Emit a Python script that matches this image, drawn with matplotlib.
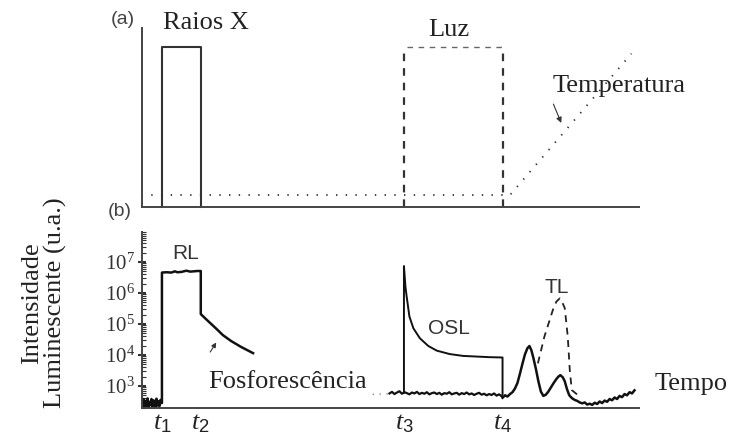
import numpy as np
import matplotlib.pyplot as plt
from matplotlib.ticker import FixedLocator, FixedFormatter, LogLocator, NullFormatter

plt.rcParams['font.family'] = ['Liberation Serif', 'DejaVu Serif']
plt.rcParams['mathtext.fontset'] = 'custom'
plt.rcParams['mathtext.rm'] = 'Liberation Sans'
plt.rcParams['mathtext.it'] = 'Liberation Serif:italic'
plt.rcParams['lines.scale_dashes'] = False

# instants marking the start/end of each stimulus
t_marks = [4.1, 11.9, 52.7, 72.5]
t_names = ['$t_1$', '$t_2$', '$t_3$', '$t_4$']

# (a) stimulus sequence
xray_t = [4.1, 4.1, 11.9, 11.9]
xray_level = [0, 1, 1, 0]
light_level = 1.0
temp_t = [0, 74.0, 98.4]
temp_level = [0.075, 0.075, 0.96]

# (b) luminescence signal, log10 of intensity
rl_t = [0.2, 0.4, 0.6, 0.8, 1.0, 1.2, 1.4, 1.6, 1.8, 2.0, 2.2, 2.4, 2.6, 2.8, 3.0,
        3.2, 3.4, 3.6, 3.8, 4.0, 4.1, 4.1, 5.0, 6.0, 6.7, 7.2, 8.0, 9.0, 9.8, 10.5,
        11.2, 11.9, 11.9, 13.0, 14.0, 15.0, 16.35, 18.0, 20.0, 22.4]
rl_log = [2.42, 2.58, 2.33, 2.52, 2.36, 2.60, 2.31, 2.49, 2.38, 2.58, 2.34, 2.54,
          2.44, 2.32, 2.59, 2.37, 2.51, 2.35, 2.55, 2.45, 2.45, 6.66, 6.67, 6.66,
          6.70, 6.67, 6.68, 6.72, 6.69, 6.70, 6.71, 6.71, 5.32, 5.15, 5.00, 4.85,
          4.64, 4.45, 4.26, 4.06]

osl_t = [52.7, 52.7, 53.0, 53.25, 53.8, 54.6, 55.9, 57.6, 59.3, 61.9, 64.6, 67.3,
         69.9, 72.5, 72.5]
osl_log = [2.78, 6.87, 6.20, 5.88, 5.24, 4.86, 4.54, 4.29, 4.14, 4.03, 3.97, 3.95,
           3.93, 3.92, 2.72]

base_t = [49.8, 50.3, 50.8, 51.3, 51.8, 52.3, 52.8, 53.3, 53.8, 54.3, 54.8, 55.3,
          55.8, 56.3, 56.8, 57.3, 57.8, 58.3, 58.8, 59.3, 59.8, 60.3, 60.8, 61.3,
          61.8, 62.3, 62.8, 63.3, 63.8, 64.3, 64.8, 65.3, 65.8, 66.3, 66.8, 67.3,
          67.8, 68.3, 68.8, 69.3, 69.8, 70.3, 70.8, 71.3, 71.8, 72.5]
base_log = [2.76, 2.81, 2.74, 2.79, 2.83, 2.75, 2.80, 2.77, 2.73, 2.79, 2.76, 2.81,
            2.74, 2.78, 2.75, 2.80, 2.73, 2.77, 2.79, 2.74, 2.78, 2.72, 2.77, 2.75,
            2.80, 2.73, 2.76, 2.78, 2.72, 2.77, 2.74, 2.79, 2.73, 2.76, 2.71, 2.75,
            2.78, 2.72, 2.75, 2.70, 2.74, 2.71, 2.76, 2.69, 2.73, 2.65]
faint_t = [46.4, 49.8]
faint_log = [2.73, 2.75]

tl_t = [72.5, 73.0, 73.5, 74.0, 74.5, 75.0, 75.5, 76.0, 76.5, 77.0, 77.5, 77.9,
        78.3, 78.7, 79.2, 79.7, 80.2, 80.7, 81.2, 81.7, 82.2, 82.7, 83.2, 83.7,
        84.1, 84.6, 85.0, 85.4, 85.8, 86.0, 86.5, 87.0, 87.5, 88.0, 88.5, 89.0,
        89.5, 90.0, 90.5, 91.0, 91.5, 92.0, 92.5, 93.0, 93.5, 94.0, 94.5, 95.0,
        95.5, 96.0, 96.5, 97.0, 97.5, 98.0, 98.5, 99.0]
tl_log = [2.62, 2.70, 2.66, 2.74, 2.80, 2.92, 3.10, 3.40, 3.72, 4.02, 4.22, 4.29,
          4.15, 3.90, 3.55, 3.15, 2.82, 2.68, 2.72, 2.82, 2.95, 3.08, 3.20, 3.30,
          3.35, 3.28, 3.15, 2.92, 2.74, 2.68, 2.60, 2.55, 2.52, 2.47, 2.44, 2.47,
          2.40, 2.43, 2.39, 2.46, 2.42, 2.50, 2.45, 2.53, 2.49, 2.58, 2.54, 2.63,
          2.58, 2.68, 2.64, 2.74, 2.70, 2.80, 2.76, 2.86]

tl_dash_t = [79.6, 80.9, 82.6, 83.3, 84.0, 84.6, 85.0, 85.6, 86.0, 86.4, 87.6]
tl_dash_log = [3.73, 4.59, 5.45, 5.72, 5.83, 5.66, 5.51, 4.59, 3.52, 2.87, 2.71]

ytick_vals = [1e3, 1e4, 1e5, 1e6, 1e7]
ytick_names = [r'$\mathregular{10^3}$', r'$\mathregular{10^4}$', r'$\mathregular{10^5}$',
               r'$\mathregular{10^6}$', r'$\mathregular{10^7}$']

W, H = 731, 443
fig = plt.figure(figsize=(W / 100, H / 100), dpi=100)
ax1 = fig.add_axes([0.1936, 0.5327, 0.6812, 0.4041])
ax2 = fig.add_axes([0.1936, 0.0790, 0.6812, 0.3973])

line_c = '#333333'
for ax in (ax1, ax2):
    ax.set_xlim(0, 100)
    for s in ('top', 'right'):
        ax.spines[s].set_visible(False)
    for s in ('left', 'bottom'):
        ax.spines[s].set_color('#444444')
        ax.spines[s].set_linewidth(1.4)

# ---- (a)
ax1.set_ylim(0, 1.12)
ax1.set_xticks([])
ax1.set_yticks([])
ax1.plot(xray_t, xray_level, color=line_c, lw=1.5, clip_on=False)
for t in t_marks[2:]:
    ax1.plot([t, t], [0, light_level], color=line_c, lw=1.6, dashes=(5.5, 5), clip_on=False)
ax1.plot([t_marks[2] + 0.6, t_marks[3]], [light_level, light_level], color='#666666',
         lw=1.0, dashes=(4, 4), clip_on=False)
ax1.plot(temp_t, temp_level, color=line_c, lw=1.3, dashes=(1, 6), clip_on=False)

ax1.text(12.9, 1.15, 'Raios X', fontsize=19, ha='center', va='center', color='#222222')
ax1.text(61.7, 1.11, 'Luz', fontsize=19, ha='center', va='center', color='#222222')
ax1.text(96.0, 0.76, 'Temperatura', fontsize=19, ha='center', va='center', color='#222222')
ax1.annotate('', xy=(84.5, 0.51), xytext=(82.5, 0.66),
             arrowprops=dict(arrowstyle='-|>', lw=0.8, color='#333333', mutation_scale=8))

# ---- (b)
ax2.set_yscale('log')
ax2.set_ylim(195, 9.3e7)
ax2.plot(rl_t, np.power(10, rl_log), color='#111111', lw=1.8)
ax2.plot(osl_t, np.power(10, osl_log), color='#111111', lw=1.4)
ax2.plot(base_t, np.power(10, base_log), color='#111111', lw=1.6)
ax2.plot(faint_t, np.power(10, faint_log), color='#888888', lw=1.0, dashes=(1, 4))
ax2.plot(tl_t, np.power(10, tl_log), color='#111111', lw=1.8)
ax2.plot(tl_dash_t, np.power(10, tl_dash_log), color='#222222', lw=1.3, dashes=(5, 4))

ax2.yaxis.set_major_locator(FixedLocator(ytick_vals))
ax2.yaxis.set_major_formatter(FixedFormatter(ytick_names))
ax2.yaxis.set_minor_locator(LogLocator(base=10, subs=range(2, 10), numticks=20))
ax2.yaxis.set_minor_formatter(NullFormatter())
ax2.tick_params(axis='y', which='major', direction='inout', length=6, width=1.5,
                labelsize=15, pad=2, colors='#333333')
ax2.tick_params(axis='y', which='minor', direction='in', length=3, width=0.8, color='#333333')
ax2.set_xticks(t_marks)
ax2.set_xticklabels(t_names, fontsize=19)
ax2.tick_params(axis='x', length=0, pad=3, colors='#222222')

sans = 'Liberation Sans'
ax2.text(8.9, 10 ** 7.27, 'RL', family=sans, fontsize=15, ha='center', va='center', color='#333333')
ax2.text(61.7, 10 ** 4.84, 'OSL', family=sans, fontsize=15, ha='center', va='center', color='#333333')
ax2.text(83.4, 10 ** 6.17, 'TL', family=sans, fontsize=15, ha='center', va='center', color='#333333')
ax2.text(29.4, 10 ** 3.14, 'Fosforescência', fontsize=19, ha='center', va='center', color='#222222')
ax2.text(110.4, 10 ** 3.08, 'Tempo', fontsize=19, ha='center', va='center', color='#222222')
ax2.annotate('', xy=(15.3, 10 ** 4.48), xytext=(13.5, 10 ** 4.02),
             arrowprops=dict(arrowstyle='-|>', lw=0.8, color='#333333', mutation_scale=7))

fig.text(123 / W, 1 - 19 / H, '(a)', family=sans, fontsize=14, ha='center', va='center', color='#444444')
fig.text(120 / W, 1 - 211 / H, '(b)', family=sans, fontsize=14, ha='center', va='center', color='#444444')
fig.text(44 / W, 1 - 303 / H, 'Intensidade\nLuminescente (u.a.)', fontsize=19, rotation=90,
         ha='center', va='center', multialignment='center', linespacing=1.0, color='#222222')

fig.savefig('out.png', dpi=100)
